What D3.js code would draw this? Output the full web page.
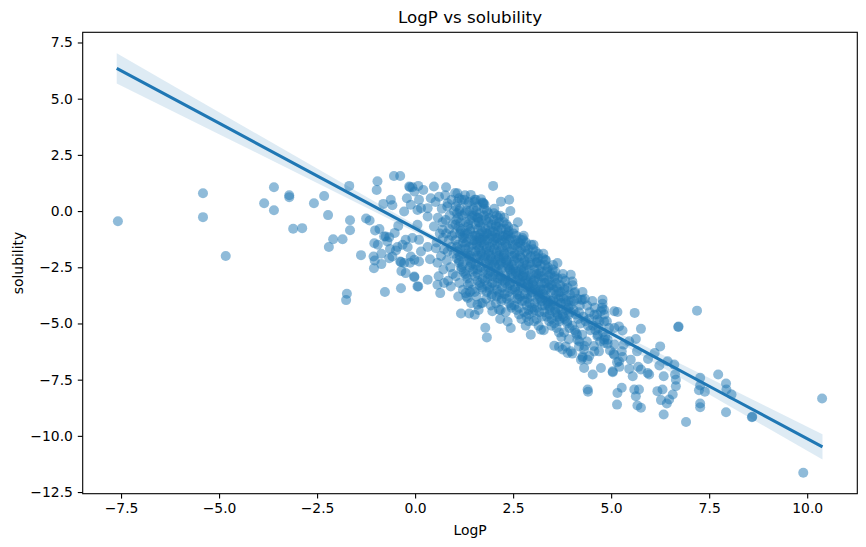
<!DOCTYPE html>
<html>
<head>
<meta charset="utf-8">
<script src="https://cdn.jsdelivr.net/npm/d3@7"></script>
<style>
  body { margin: 0; background: #fff; }
  text { font-family: "DejaVu Sans", sans-serif; fill: #000; }
</style>
</head>
<body>
<svg id="chart" width="866" height="547"></svg>
<script>
// values
var logP = [
    // sparse left side
    -7.58,-5.41,-5.41,-4.83,-3.60,-3.85,-3.60,-3.21,-3.21,-3.11,
    -2.88,-2.58,-2.32,-2.22,-2.09,-1.85,-2.20,-1.68,-1.66,-1.66,
    -1.38,-1.74,-1.76,-1.25,-1.16,-1.02,-0.91,-1.04,-0.95,-0.79,
    -0.66,-1.06,-1.03,-1.05,-0.86,-0.86,-0.77,-0.36,-0.36,-0.35,
    -0.58,-0.64,-0.49,-0.45,-0.32,-0.24,-0.52,-0.43,-0.28,-0.96,
    -0.98,-0.54,-0.38,-0.81,-0.62,-0.58,-0.21,-0.15,-0.75,-0.71,
    -0.38,-0.66,-0.11,-0.02,-0.07,-0.19,-0.24,-0.02,-0.13,-0.28,
    -0.07,0.08,-0.13,-0.02,0.21,-0.11,0.10,0.48,0.79,0.15,
    0.10,0.10,-0.02,0.08,0.32,0.06,0.38,0.57,0.91,0.64,
    0.74,0.32,0.53,0.48,0.70,0.32,0.06,0.15,0.06,0.32,
    // edges of the main cloud
    0.40,0.61,0.83,1.08,1.12,1.42,1.55,1.68,1.99,2.19,
    2.40,1.72,1.74,2.17,2.70,2.68,2.31,2.06,3.12,3.33,
    3.63,3.55,3.97,4.01,3.80,1.17,1.38,1.52,1.79,1.83,
    1.97,2.14,2.17,2.44,2.36,2.95,2.82,3.21,3.55,3.67,
    3.89,3.97,4.27,4.31,4.53,4.74,5.04,4.40,5.08,5.20,
    5.08,4.82,1.29,1.34,1.59,1.72,4.06,4.27,4.78,4.82,
    // right side
    5.08,5.20,7.19,6.71,6.72,10.38,9.90,8.59,8.60,7.93,
    7.73,7.93,7.94,8.07,7.27,7.27,7.24,7.39,7.27,7.27,
    6.91,6.34,6.61,6.63,6.65,6.65,6.57,6.48,6.42,6.27,
    6.31,6.18,6.34,6.23,6.44,6.25,6.11,5.94,5.97,5.93,
    5.76,5.69,5.71,5.63,5.67,5.76,5.59,5.55,5.46,5.50,
    5.29,5.27,5.32,5.46,5.63,5.66,5.76,5.60,5.16,5.29,
    5.08,5.06,5.15,5.21,5.04,5.27,5.16,5.15,4.41,4.23,
    4.40,4.57,4.69,4.82,4.91,4.65,4.82,4.74,4.78,4.57,
    4.65,4.01,3.84,3.76,4.18,4.14,4.10,4.31,4.44,4.27,
    4.23,3.72,
    // dense core
    0.52,0.58,0.63,0.55,0.70,0.66,0.72,0.60,0.68,0.74,0.57,0.71,
    0.77,0.82,0.88,0.95,0.79,0.86,0.92,0.98,0.81,0.90,0.96,0.84,0.93,0.99,0.78,0.87,0.94,0.83,
    1.02,1.08,1.14,1.20,1.05,1.11,1.17,1.23,1.03,1.09,1.15,1.21,1.06,1.12,1.18,1.24,1.04,1.13,1.22,1.10,1.19,1.07,1.16,1.01,1.22,1.14,
    1.27,1.33,1.39,1.45,1.29,1.35,1.41,1.47,1.26,1.32,1.38,1.44,1.30,1.36,1.42,1.48,1.28,1.34,1.40,1.46,1.31,1.43,1.37,1.49,1.27,1.40,1.33,1.46,1.29,1.39,
    1.52,1.58,1.64,1.70,1.54,1.60,1.66,1.72,1.51,1.57,1.63,1.69,1.55,1.61,1.67,1.73,1.53,1.59,1.65,1.71,1.56,1.68,1.62,1.74,1.51,1.63,1.57,1.70,1.54,1.66,1.59,1.72,1.64,1.58,
    1.77,1.83,1.89,1.95,1.79,1.85,1.91,1.97,1.76,1.82,1.88,1.94,1.80,1.86,1.92,1.98,1.78,1.84,1.90,1.96,1.81,1.93,1.87,1.99,1.76,1.84,1.91,1.79,1.95,1.86,1.97,1.83,1.89,1.77,
    2.02,2.08,2.14,2.20,2.04,2.10,2.16,2.22,2.01,2.07,2.13,2.19,2.05,2.11,2.17,2.23,2.03,2.09,2.15,2.21,2.06,2.18,2.12,2.24,2.01,2.09,2.16,2.04,2.20,2.11,2.22,2.08,2.14,2.02,
    2.27,2.33,2.39,2.45,2.29,2.35,2.41,2.47,2.26,2.32,2.38,2.44,2.30,2.36,2.42,2.48,2.28,2.34,2.40,2.46,2.31,2.43,2.37,2.49,2.26,2.34,2.41,2.29,2.45,2.38,2.47,2.32,
    2.52,2.58,2.64,2.70,2.54,2.60,2.66,2.72,2.51,2.57,2.63,2.69,2.55,2.61,2.67,2.73,2.53,2.59,2.65,2.71,2.62,2.74,2.56,2.68,2.53,2.65,2.70,2.58,2.63,2.74,
    2.77,2.83,2.89,2.95,2.79,2.85,2.91,2.97,2.76,2.82,2.88,2.94,2.80,2.86,2.92,2.98,2.78,2.84,2.90,2.96,2.81,2.93,2.87,2.99,2.83,2.95,2.89,2.77,
    3.02,3.08,3.14,3.20,3.04,3.10,3.16,3.22,3.01,3.07,3.13,3.19,3.05,3.11,3.17,3.23,3.03,3.15,3.09,3.21,3.06,3.18,3.12,3.24,3.01,3.14,
    3.27,3.33,3.39,3.45,3.29,3.35,3.41,3.47,3.26,3.32,3.38,3.44,3.30,3.36,3.42,3.48,3.28,3.40,3.34,3.46,3.31,3.43,3.37,3.49,
    3.52,3.58,3.64,3.70,3.54,3.60,3.66,3.72,3.51,3.57,3.63,3.69,3.55,3.61,3.67,3.73,3.59,3.65,3.71,3.53,
    3.77,3.83,3.89,3.95,3.79,3.85,3.91,3.97,3.76,3.82,3.88,3.94,3.80,3.92,3.86,3.98,
    4.02,4.08,4.14,4.20,4.04,4.10,4.16,4.22,4.01,4.07,4.13,4.19,4.05,4.18,
    4.27,4.33,4.39,4.45,4.29,4.35,4.41,4.47,4.26,4.38,4.32,4.44,
    4.52,4.58,4.64,4.70,4.54,4.60,4.66,4.72,4.56,4.68,
    4.77,4.83,4.89,4.95,4.79,4.85,4.91,4.97,
    // second layer of the core
    1.04,1.10,1.16,1.22,1.06,1.12,1.18,1.03,1.09,1.15,1.21,1.13,
    1.26,1.31,1.36,1.41,1.46,1.28,1.33,1.38,1.43,1.48,1.30,1.35,1.40,1.45,1.27,1.42,
    1.51,1.56,1.61,1.66,1.71,1.53,1.58,1.63,1.68,1.73,1.55,1.60,1.65,1.70,1.52,1.57,1.62,1.67,
    1.76,1.81,1.86,1.91,1.96,1.78,1.83,1.88,1.93,1.98,1.80,1.85,1.90,1.95,1.77,1.82,1.87,1.92,
    2.01,2.06,2.11,2.16,2.21,2.03,2.08,2.13,2.18,2.23,2.05,2.10,2.15,2.20,2.02,2.07,2.12,2.17,
    2.26,2.31,2.36,2.41,2.46,2.28,2.33,2.38,2.43,2.48,2.30,2.35,2.40,2.45,2.27,2.32,2.37,2.42,
    2.51,2.56,2.61,2.66,2.71,2.53,2.58,2.63,2.68,2.73,2.55,2.60,2.65,2.70,2.52,2.62,
    2.76,2.81,2.86,2.91,2.96,2.78,2.83,2.88,2.93,2.98,2.80,2.85,2.90,2.95,2.77,2.87,
    3.01,3.06,3.11,3.16,3.21,3.03,3.08,3.13,3.18,3.23,3.05,3.10,3.15,3.20,
    3.26,3.31,3.36,3.41,3.46,3.28,3.33,3.38,3.43,3.48,3.30,3.40,
    3.51,3.56,3.61,3.66,3.71,3.53,3.58,3.63,3.68,3.73,
    3.76,3.81,3.86,3.91,3.96,3.78,3.88,3.93
];

var solubility = [
    // sparse left side
    -0.45,0.79,-0.27,-2.00,1.06,0.35,0.04,0.70,0.62,-0.79,
    -0.76,0.35,0.67,-0.18,-1.25,-1.25,-1.60,1.12,-0.41,-0.85,
    -1.96,-3.68,-3.96,-0.33,-0.42,-0.86,-0.80,-1.43,-1.50,-1.13,
    -1.16,-2.02,-2.20,-2.54,-2.36,-1.90,-3.60,-3.43,-2.27,-2.67,
    -2.02,-1.69,-1.75,-1.60,-1.50,-1.28,-0.97,-0.66,-0.02,1.33,
    0.94,1.56,1.56,0.32,0.50,0.26,0.57,1.09,-1.13,-1.35,
    -2.24,-2.10,-2.02,-2.17,-1.20,-1.60,-2.76,-2.91,-2.30,-2.31,
    1.06,1.12,1.06,0.87,0.94,0.28,0.50,1.09,1.06,-1.80,
    -2.24,-1.28,-2.94,-3.35,-3.05,-3.35,-2.14,-3.28,-3.35,-3.65,
    -3.20,-1.60,-1.65,-0.69,-0.83,-0.24,-0.61,0.13,0.05,0.13,
    // edges of the main cloud
    0.57,0.64,0.35,0.79,0.57,0.72,0.50,0.53,1.12,0.42,
    0.50,0.38,0.36,-0.21,-1.28,-1.43,-1.06,-0.69,-2.24,-2.17,
    -2.31,-2.98,-2.83,-3.13,-3.42,-4.56,-4.56,-4.61,-5.19,-5.62,
    -4.46,-4.39,-4.80,-5.20,-4.91,-5.50,-5.10,-5.28,-5.99,-6.04,
    -6.31,-6.24,-6.53,-6.98,-7.27,-6.98,-7.17,-7.94,-6.39,-6.68,
    -5.94,-5.72,-3.65,-3.87,-4.17,-4.09,-3.65,-3.94,-3.94,-4.39,
    // right side
    -4.46,-5.13,-4.43,-5.16,-5.14,-8.34,-11.64,-9.17,-9.15,-8.95,
    -7.27,-7.67,-7.94,-8.16,-7.42,-7.76,-7.97,-8.04,-8.56,-8.73,
    -9.38,-9.05,-6.83,-7.27,-7.50,-7.79,-8.16,-8.38,-8.56,-8.41,
    -7.94,-8.01,-7.35,-6.87,-6.68,-6.02,-6.31,-6.58,-7.27,-7.20,
    -7.05,-6.93,-7.94,-8.24,-8.65,-8.75,-7.94,-7.35,-7.02,-6.61,
    -6.49,-6.24,-5.94,-5.79,-5.69,-6.24,-5.24,-4.53,-4.49,-5.31,
    -5.20,-6.34,-6.73,-6.93,-7.13,-7.86,-8.09,-8.61,-8.04,-6.61,
    -6.61,-6.24,-6.24,-5.87,-5.72,-5.57,-4.91,-4.46,-4.12,-4.61,
    -4.83,-6.34,-6.02,-6.16,-6.02,-5.72,-5.42,-6.16,-6.46,-6.46,
    -3.94,-4.09,
    // dense core
    0.4,-0.3,-1.0,-1.4,-0.5,-2.0,-2.6,-2.9,0.1,-1.7,-2.3,-1.2,
    0.7,0.2,-0.2,-0.6,-1.0,-1.3,-1.6,-1.9,-2.2,-2.5,-2.8,-3.1,0.5,0.0,-0.4,-0.8,-1.1,-1.8,
    0.8,0.4,0.1,-0.2,-0.4,-0.7,-0.9,-1.1,-1.3,-1.5,-1.7,-1.9,-2.1,-2.3,-2.5,-2.7,-2.9,-3.2,-3.5,-3.8,0.5,-0.1,-0.5,-1.0,-1.4,-2.0,
    0.7,0.3,0.0,-0.3,-0.5,-0.7,-0.9,-1.1,-1.2,-1.4,-1.6,-1.8,-2.0,-2.2,-2.4,-2.6,-2.8,-3.0,-3.2,-3.5,-3.8,-4.1,0.4,0.1,-0.1,-0.4,-1.0,-1.5,-1.7,-2.5,
    0.5,0.2,-0.1,-0.4,-0.6,-0.8,-1.0,-1.2,-1.3,-1.5,-1.7,-1.9,-2.1,-2.3,-2.5,-2.7,-2.9,-3.1,-3.3,-3.5,-3.8,-4.1,-4.4,0.3,-0.2,-0.5,-1.1,-1.4,-1.8,-2.0,-2.6,-3.0,-1.2,-0.3,
    0.3,0.0,-0.3,-0.6,-0.8,-1.0,-1.2,-1.4,-1.5,-1.7,-1.9,-2.1,-2.3,-2.5,-2.7,-2.9,-3.1,-3.3,-3.5,-3.7,-3.9,-4.2,-0.5,-0.9,-0.2,-1.3,-1.6,-2.0,-2.4,-2.8,-3.2,-3.6,-2.2,-1.1,
    0.1,-0.2,-0.5,-0.8,-1.0,-1.2,-1.4,-1.6,-1.7,-1.9,-2.1,-2.3,-2.5,-2.7,-2.9,-3.1,-3.3,-3.5,-3.7,-3.9,-4.1,-4.4,-0.7,-1.1,-0.4,-1.5,-1.8,-2.2,-2.6,-3.0,-3.4,-3.8,-2.4,-1.3,
    -0.3,-0.6,-0.9,-1.2,-1.4,-1.6,-1.8,-2.0,-2.1,-2.3,-2.5,-2.7,-2.9,-3.1,-3.3,-3.5,-3.7,-3.9,-4.1,-4.3,-4.5,0.0,-1.0,-1.5,-1.8,-2.2,-2.6,-3.2,-3.0,-3.6,-2.4,-1.2,
    -0.8,-1.1,-1.4,-1.7,-1.9,-2.1,-2.3,-2.5,-2.6,-2.8,-3.0,-3.2,-3.4,-3.6,-3.8,-4.0,-4.2,-4.4,-4.6,-4.8,-0.5,-1.2,-1.5,-2.0,-2.2,-2.7,-3.4,-3.1,-3.9,-2.9,
    -1.1,-1.4,-1.7,-2.0,-2.2,-2.4,-2.6,-2.8,-2.9,-3.1,-3.3,-3.5,-3.7,-3.9,-4.1,-4.3,-4.5,-4.7,-4.9,-1.5,-1.8,-2.3,-2.9,-3.2,-3.4,-3.8,-4.4,-2.6,
    -1.5,-1.8,-2.1,-2.4,-2.6,-2.8,-3.0,-3.2,-3.3,-3.5,-3.7,-3.9,-4.1,-4.3,-4.5,-4.7,-4.9,-5.1,-2.3,-2.7,-3.0,-3.4,-3.9,-4.2,-4.5,-1.9,
    -1.9,-2.2,-2.5,-2.8,-3.0,-3.2,-3.4,-3.6,-3.7,-3.9,-4.1,-4.3,-4.5,-4.7,-4.9,-5.1,-5.3,-2.9,-3.5,-4.0,-4.2,-4.6,-2.6,-3.3,
    -2.4,-2.7,-3.0,-3.3,-3.5,-3.7,-3.9,-4.1,-4.2,-4.4,-4.6,-4.8,-5.0,-5.2,-5.4,-5.6,-3.2,-4.3,-3.6,-3.9,
    -2.8,-3.1,-3.4,-3.7,-3.9,-4.1,-4.3,-4.5,-4.6,-4.8,-5.0,-5.2,-5.4,-5.7,-4.4,-4.0,
    -3.3,-3.6,-3.9,-4.2,-4.4,-4.6,-4.8,-5.0,-5.1,-5.3,-5.5,-5.8,-4.0,-4.5,
    -3.6,-3.9,-4.2,-4.5,-4.7,-4.9,-5.1,-5.3,-5.5,-5.8,-6.0,-4.8,
    -4.0,-4.3,-4.6,-4.9,-5.1,-5.3,-5.5,-5.8,-6.0,-5.2,
    -4.3,-4.6,-4.9,-5.2,-5.4,-5.6,-5.9,-6.2,
    // second layer of the core
    0.2,-0.3,-0.8,-1.2,-1.6,-2.2,-2.6,-0.6,-1.8,-1.0,-2.4,0.0,
    0.5,0.0,-0.6,-0.8,-1.3,-1.5,-1.9,-2.1,-2.3,-2.7,-2.9,-3.3,-3.6,-0.2,-1.0,-2.0,
    0.4,0.0,-0.3,-0.7,-0.9,-1.1,-1.4,-1.6,-1.8,-2.2,-2.4,-2.8,-3.2,-3.4,-3.6,-2.0,-0.5,-1.3,
    0.1,-0.4,-0.7,-0.9,-1.1,-1.3,-1.6,-1.8,-2.0,-2.3,-2.6,-3.0,-3.4,-3.8,-2.1,-1.0,-0.1,-2.9,
    -0.1,-0.6,-0.9,-1.1,-1.3,-1.5,-1.8,-2.0,-2.2,-2.5,-2.8,-3.2,-3.6,-4.0,-2.4,-1.2,-0.3,-3.0,
    -0.5,-0.8,-1.1,-1.3,-1.7,-1.9,-2.2,-2.4,-2.6,-2.8,-3.0,-3.4,-3.8,-4.2,-2.0,-1.5,-0.7,-3.2,
    -1.0,-1.3,-1.6,-1.8,-2.1,-2.4,-2.7,-2.9,-3.1,-3.3,-3.5,-3.9,-4.3,-2.6,-2.0,-3.7,
    -1.3,-1.6,-1.9,-2.1,-2.4,-2.7,-3.0,-3.2,-3.4,-3.6,-4.0,-4.2,-4.6,-3.0,-2.3,-3.7,
    -1.7,-2.0,-2.3,-2.6,-2.9,-3.1,-3.4,-3.6,-3.8,-4.0,-4.4,-4.8,-2.8,-3.5,
    -2.1,-2.4,-2.7,-3.1,-3.3,-3.5,-3.8,-4.0,-4.4,-4.8,-3.2,-4.2,
    -2.6,-2.9,-3.4,-3.6,-3.8,-4.0,-4.5,-4.7,-4.9,-4.4,
    -3.0,-3.5,-3.8,-4.0,-4.2,-4.7,-4.9,-4.6
];

// regression line and its confidence band
var fitX = [-7.61, -5, -2.5, 0, 2, 4, 6, 8, 10.39];
var fitY = [6.35, 3.91, 1.57, -0.77, -2.64, -4.51, -6.39, -8.26, -10.49];
var bandUpper = [7.02, 4.40, 1.89, -0.61, -2.57, -4.37, -6.13, -7.86, -9.93];
var bandLower = [5.68, 3.42, 1.25, -0.93, -2.71, -4.65, -6.65, -8.66, -11.05];

var xTicks = [-7.5, -5, -2.5, 0, 2.5, 5, 7.5, 10];
var yTicks = [-12.5, -10, -7.5, -5, -2.5, 0, 2.5, 5, 7.5];

var margin = { top: 32.3, right: 8.7, bottom: 53.3, left: 82.7 };
var width = 866, height = 547;

var svg = d3.select("#chart");

var points = d3.zip(logP, solubility);
if (logP.length !== solubility.length) console.log("length mismatch", logP.length, solubility.length);

// matplotlib style 5% padding around the data
var xExt = d3.extent(logP);
var yExt = [d3.min(solubility.concat(bandLower)), d3.max(solubility.concat(bandUpper))];
var xPad = (xExt[1] - xExt[0]) * 0.05;
var yPad = (yExt[1] - yExt[0]) * 0.05;

var x = d3.scaleLinear()
    .domain([xExt[0] - xPad, xExt[1] + xPad])
    .range([margin.left, width - margin.right]);
var y = d3.scaleLinear()
    .domain([yExt[0] - yPad, yExt[1] + yPad])
    .range([height - margin.bottom, margin.top]);

var plot = svg.append("g");

// scatter
plot.append("g")
    .selectAll("circle")
    .data(points)
    .join("circle")
    .attr("cx", d => x(d[0]))
    .attr("cy", d => y(d[1]))
    .attr("r", 5)
    .attr("fill", "#1f77b4")
    .attr("fill-opacity", 0.5)
    .attr("stroke", "none");

// confidence band
var bandData = fitX.map((v, i) => [v, bandLower[i], bandUpper[i]]);
plot.append("path")
    .datum(bandData)
    .attr("fill", "#1f77b4")
    .attr("fill-opacity", 0.15)
    .attr("d", d3.area()
        .x(d => x(d[0]))
        .y0(d => y(d[1]))
        .y1(d => y(d[2])));

// regression line
plot.append("path")
    .datum(d3.zip(fitX, fitY))
    .attr("fill", "none")
    .attr("stroke", "#1f77b4")
    .attr("stroke-width", 3.1)
    .attr("d", d3.line()
        .x(d => x(d[0]))
        .y(d => y(d[1])));

// axes
var fmt = d3.format(".1f");
var xAxis = svg.append("g")
    .attr("transform", `translate(0,${height - margin.bottom})`)
    .call(d3.axisBottom(x).tickValues(xTicks).tickFormat(fmt)
        .tickSize(4.9).tickSizeOuter(0).tickPadding(4.9));
var yAxis = svg.append("g")
    .attr("transform", `translate(${margin.left},0)`)
    .call(d3.axisLeft(y).tickValues(yTicks).tickFormat(fmt)
        .tickSize(4.9).tickSizeOuter(0).tickPadding(4.9));

[xAxis, yAxis].forEach(a => {
    a.select(".domain").remove();
    a.selectAll(".tick line").attr("stroke", "#000").attr("stroke-width", 1.1);
    a.selectAll(".tick text")
        .style("font-family", "'DejaVu Sans', sans-serif")
        .style("font-size", "13.9px")
        .attr("fill", "#000");
});

// frame
svg.append("rect")
    .attr("x", margin.left)
    .attr("y", margin.top)
    .attr("width", width - margin.left - margin.right)
    .attr("height", height - margin.top - margin.bottom)
    .attr("fill", "none")
    .attr("stroke", "#000")
    .attr("stroke-width", 1.1);

// titles
svg.append("text")
    .attr("x", (margin.left + width - margin.right) / 2)
    .attr("y", 23)
    .attr("text-anchor", "middle")
    .style("font-size", "16.7px")
    .text("LogP vs solubility");

svg.append("text")
    .attr("x", (margin.left + width - margin.right) / 2)
    .attr("y", 535)
    .attr("text-anchor", "middle")
    .style("font-size", "13.9px")
    .text("LogP");

svg.append("text")
    .attr("transform", `translate(22.5,${(margin.top + height - margin.bottom) / 2}) rotate(-90)`)
    .attr("text-anchor", "middle")
    .style("font-size", "13.9px")
    .text("solubility");
</script>
</body>
</html>
